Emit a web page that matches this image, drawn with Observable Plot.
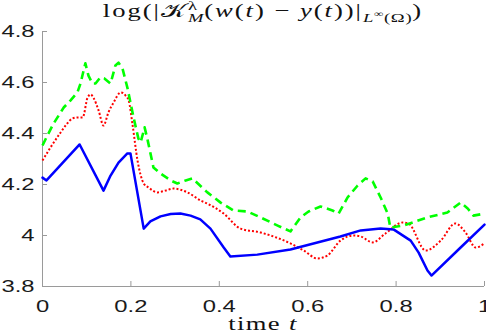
<!DOCTYPE html>
<html><head><meta charset="utf-8">
<script src="https://cdn.jsdelivr.net/npm/d3@7"></script>
<script src="https://cdn.jsdelivr.net/npm/@observablehq/plot@0.6"></script>
<style>
body{margin:0;background:#fff;overflow:hidden}
#wrap{position:relative;width:486px;height:335px}
#wrap svg{display:block}
.lbl{position:absolute;left:42px;width:442px;text-align:center;font-family:'Liberation Serif','DejaVu Serif',serif;font-size:19px;color:#111;white-space:nowrap;transform:scaleX(1.4);transform-origin:center;line-height:20px}
#title{top:1px;letter-spacing:1.4px}
#xlabel{top:314px;letter-spacing:1px}
sub,sup{font-size:0.7em;line-height:0;letter-spacing:0.5px}
.stk{display:inline-block;width:0}
</style></head>
<body>
<div id="wrap">
<div class="lbl" id="title">log(|<span>𝒦</span><sup class="stk">λ</sup><sub><i>M</i></sub>(<i>w</i>(<i>t</i>) − <i>y</i>(<i>t</i>))|<sub><i>L</i><sup>∞</sup>(Ω)</sub>)</div>
<div class="lbl" id="xlabel">time <i>t</i></div>
</div>
<script>
const xTicks = [0, 0.2, 0.4, 0.6, 0.8, 1];
const yTicks = [3.8, 4, 4.2, 4.4, 4.6, 4.8];

const blueT = [0,0.009,0.084,0.138,0.154,0.172,0.192,0.199,0.229,0.244,0.267,0.29,0.312,0.335,0.357,0.38,0.41,0.425,0.486,0.561,0.674,0.72,0.765,0.794,0.833,0.851,0.871,0.88,0.946,1.0];
const blueV = [4.227,4.216,4.357,4.176,4.235,4.286,4.322,4.322,4.027,4.055,4.075,4.084,4.086,4.078,4.063,4.027,3.953,3.918,3.925,3.945,3.996,4.02,4.027,4.024,3.98,3.933,3.863,3.843,3.953,4.043];

const redT = [0,0.018,0.041,0.054,0.068,0.079,0.091,0.102,0.109,0.115,0.127,0.138,0.149,0.161,0.177,0.188,0.195,0.204,0.215,0.229,0.24,0.26,0.278,0.296,0.328,0.358,0.373,0.41,0.448,0.493,0.516,0.561,0.591,0.622,0.645,0.674,0.704,0.72,0.747,0.776,0.815,0.828,0.867,0.901,0.934,0.957,0.98,1.0];
const redV = [4.294,4.345,4.404,4.435,4.459,4.463,4.463,4.541,4.553,4.541,4.49,4.431,4.482,4.522,4.561,4.549,4.529,4.431,4.294,4.204,4.188,4.169,4.176,4.184,4.169,4.137,4.125,4.086,4.027,4.012,4.0,3.969,3.941,3.91,3.922,3.98,4.0,3.996,3.973,4.008,4.051,4.047,3.941,3.98,4.047,4.012,3.953,3.969];

const greenT = [0,0.011,0.025,0.048,0.063,0.079,0.086,0.093,0.097,0.104,0.113,0.12,0.131,0.14,0.154,0.165,0.172,0.181,0.192,0.206,0.217,0.222,0.231,0.238,0.251,0.267,0.29,0.305,0.324,0.339,0.373,0.403,0.432,0.464,0.493,0.532,0.561,0.584,0.602,0.629,0.656,0.67,0.69,0.713,0.731,0.747,0.765,0.781,0.787,0.817,0.871,0.916,0.946,0.962,0.975,1.0];
const greenV = [4.353,4.392,4.439,4.502,4.529,4.561,4.596,4.647,4.675,4.627,4.596,4.596,4.62,4.616,4.596,4.667,4.678,4.655,4.58,4.463,4.38,4.365,4.424,4.373,4.267,4.243,4.216,4.204,4.216,4.224,4.169,4.129,4.098,4.094,4.071,4.039,4.016,4.071,4.094,4.114,4.098,4.086,4.149,4.196,4.224,4.212,4.149,4.086,4.031,4.039,4.071,4.09,4.129,4.106,4.078,4.086];

const rows = (T, V) => T.map((t, i) => ({t, v: V[i]}));
const blue = rows(blueT, blueV), red = rows(redT, redV), green = rows(greenT, greenV);

const axisColor = "#9a9a9a";
const W = 486, H = 335, mL = 42, mR = 2, mT = 31, mB = 49;

const svg = Plot.plot({
  width: W, height: H,
  marginLeft: mL, marginRight: mR, marginTop: mT, marginBottom: mB,
  style: {fontFamily: "'Liberation Sans', Arial, sans-serif", fontSize: "17px", color: "#1a1a1a", background: "#fff"},
  x: {domain: [0, 1]},
  y: {domain: [3.8, 4.8]},
  marks: [
    Plot.ruleX([0], {stroke: axisColor}),
    Plot.ruleY([3.8], {stroke: axisColor}),
    Plot.tickX(xTicks, {x: d => d, insetTop: H - mT - mB - 5, stroke: axisColor}),
    Plot.tickY(yTicks, {y: d => d, insetRight: W - mL - mR - 5, stroke: axisColor}),
    Plot.axisX({ticks: xTicks, tickSize: 0, tickPadding: 13, label: null, fontSize: 17, tickFormat: d => String(+d.toFixed(1))}),
    Plot.axisY({ticks: yTicks, tickSize: 0, tickPadding: 8, label: null, fontSize: 17, tickFormat: d => String(+d.toFixed(1))}),
    Plot.line(red, {x: "t", y: "v", stroke: "#ff0000", strokeWidth: 2, strokeDasharray: "2,2", strokeLinecap: "butt", curve: "monotone-x"}),
    Plot.line(blue, {x: "t", y: "v", stroke: "#0000ff", strokeWidth: 2.5, curve: "linear"}),
    Plot.line(green, {x: "t", y: "v", stroke: "#00ff00", strokeWidth: 2.6, strokeDasharray: "8,5", strokeLinecap: "butt", curve: "linear"})
  ]
});

svg.querySelectorAll('g[aria-label$="tick label"] text').forEach(t => {
  const tr = t.getAttribute('transform');
  if (tr) t.setAttribute('transform', tr + ' scale(1.4,1)');
  else {
    const x = +(t.getAttribute('x') || 0), y = +(t.getAttribute('y') || 0);
    t.removeAttribute('x'); t.removeAttribute('y');
    t.setAttribute('transform', `translate(${x},${y}) scale(1.4,1)`);
  }
});

document.getElementById('wrap').prepend(svg);
</script>
</body></html>
